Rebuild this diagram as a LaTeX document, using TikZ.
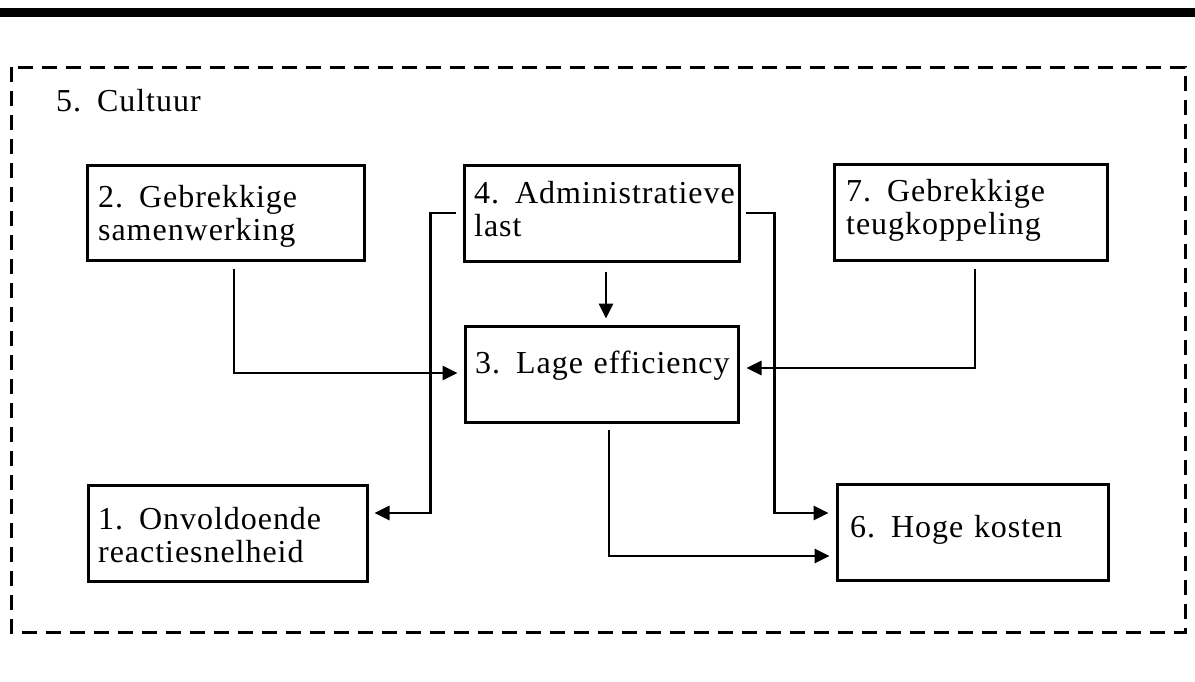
\documentclass[tikz,border=0pt]{standalone}
\usepackage{fontspec}
\setmainfont{Liberation Serif}[LetterSpace=3]
\usetikzlibrary{arrows.meta,calc}
\begin{document}
\begin{tikzpicture}[x=1pt,y=-1pt,
  box/.style={draw, line width=3pt, inner sep=0pt},
  lbl/.style={anchor=base west, inner sep=0pt, text width=300pt, align=left,
    font=\fontsize{32}{33.5}\selectfont},
  link/.style={line width=2.7pt},
  arr/.style={link, -{Triangle[length=15pt,width=14pt]}},
]
\useasboundingbox (0,0) rectangle (1195,681);

% heading rule and the dashed frame of the culture
\fill (0,8) rectangle (1195,17);
\draw[line width=3pt, dash pattern=on 15pt off 9pt] (11,67) rectangle (1185,632);
\node[lbl] (t5) at (56,111) {5. Cultuur};

% the six factor boxes
\node[box, minimum width=277pt, minimum height=95pt] (b2) at (225.5,212.5) {};
\node[box, minimum width=275pt, minimum height=96pt] (b4) at (601.5,213) {};
\node[box, minimum width=273pt, minimum height=96pt] (b7) at (970.5,212) {};
\node[box, minimum width=273pt, minimum height=96pt] (b3) at (601.5,374) {};
\node[box, minimum width=279pt, minimum height=96pt] (b1) at (227.5,533) {};
\node[box, minimum width=271pt, minimum height=96pt] (b6) at (972.5,532) {};

% box texts
\node[lbl] (t2) at (98,207) {2. Gebrekkige\\samenwerking};
\node[lbl] (t4) at (474,203) {4. Administratieve\\last};
\node[lbl] (t7) at (846,201) {7. Gebrekkige\\teugkoppeling};
\node[lbl] (t3) at (475,373) {3. Lage efficiency};
\node[lbl] (t1) at (98,529) {1. Onvoldoende\\reactiesnelheid};
\node[lbl] (t6) at (850,537) {6. Hoge kosten};

% connectors
\draw[arr] ($(b2.south)+(8.5,7)$) |- ($(b3.west)+(-6,-1)$);
\draw[arr] ($(b4.south)+(4.5,9)$) -- ($(b3.north)+(4.5,-6)$);
\draw[arr] ($(b7.south)+(4.5,7)$) |- ($(b3.east)+(7,-6)$);
\draw[arr] ($(b4.west)+(-7,0)$) -- ++(-25,0) |- ($(b1.east)+(6,-20)$);
\draw[arr] ($(b4.east)+(5,0)$) -- ++(29,0) |- ($(b6.west)+(-7,-19)$);
\draw[arr] ($(b3.south)+(7.5,6)$) |- ($(b6.west)+(-6,24)$);
\end{tikzpicture}
\end{document}
